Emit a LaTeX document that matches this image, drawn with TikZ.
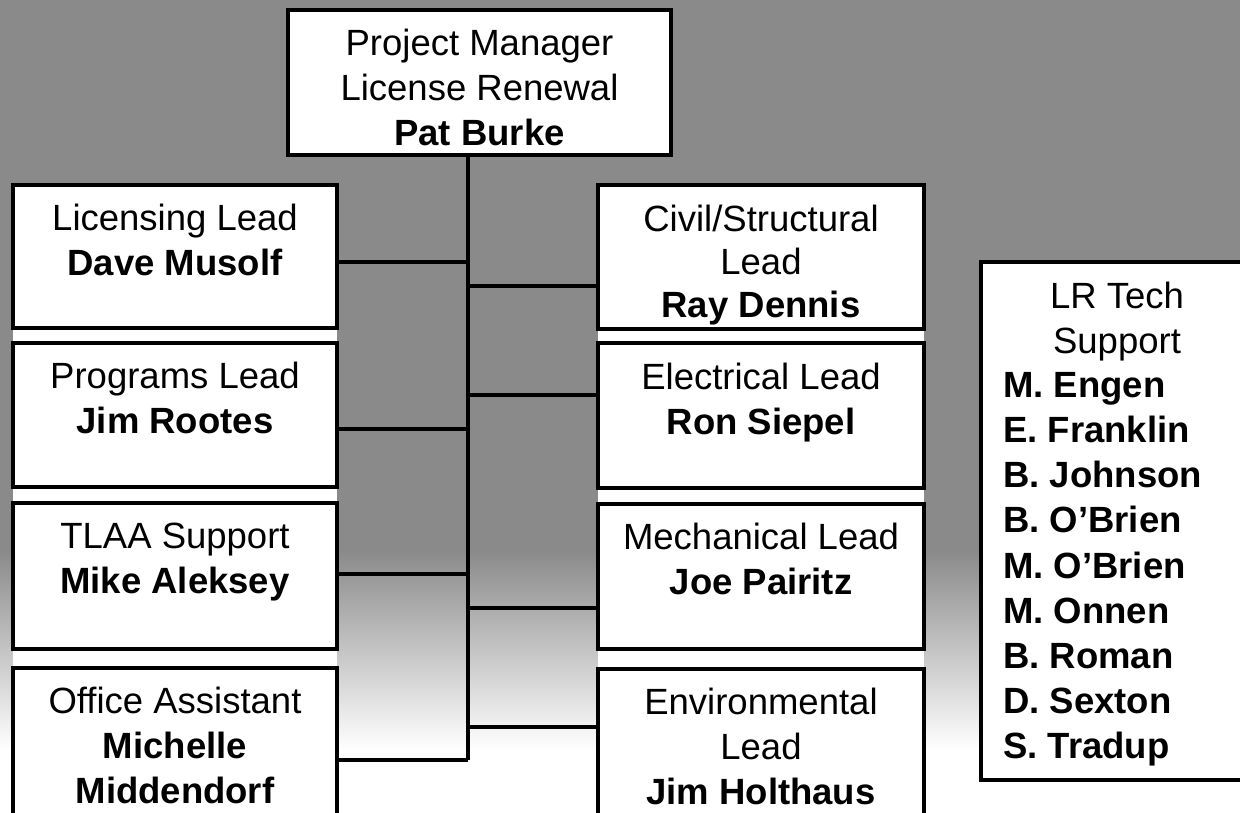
\documentclass[tikz,border=0pt]{standalone}
\usepackage{fontspec}
\setmainfont{Liberation Sans}
\begin{document}
\begin{tikzpicture}[x=1pt,y=-1pt,
  box/.style={draw=black, line width=3.2pt, fill=white, inner sep=0pt, outer sep=0pt, anchor=north west},
  txt/.style={anchor=north, align=center, inner sep=0pt, font=\fontsize{36.5}{45}\selectfont},
  lst/.style={anchor=north west, align=left, inner sep=0pt, font=\fontsize{36.5}{45.2}\selectfont\bfseries},
  link/.style={draw=black, line width=3.2pt}]
\useasboundingbox (0,0) rectangle (1240,813);
\clip (0,0) rectangle (1240,813);
% background texture (approximated as grey fading downwards)
\fill[black!46] (0,0) rectangle (1240,550);
\shade[top color=black!46, bottom color=white] (0,550) rectangle (1240,750);
\fill[white] (0,750) rectangle (1240,813);
% columns are lighter between their boxes
\fill[white] (13,185) rectangle (337,813);
\fill[white] (598,185) rectangle (924,813);

% boxes
\node[box, minimum width=383pt, minimum height=145pt] (top) at (288,10) {};
\node[box, minimum width=324pt, minimum height=143pt] (lic) at (13,185) {};
\node[box, minimum width=324pt, minimum height=144pt] (prog) at (13,343) {};
\node[box, minimum width=324pt, minimum height=146pt] (tlaa) at (13,503) {};
\node[box, minimum width=324pt, minimum height=170pt] (off) at (13,668) {};
\node[box, minimum width=326pt, minimum height=144pt] (civ) at (598,185) {};
\node[box, minimum width=326pt, minimum height=145pt] (ele) at (598,343) {};
\node[box, minimum width=326pt, minimum height=145pt] (mec) at (598,504) {};
\node[box, minimum width=326pt, minimum height=170pt] (env) at (598,669) {};
\node[box, minimum width=272pt, minimum height=518pt] (lr) at (981,262) {};

% connectors
\coordinate (tb) at (468,760);
\coordinate (jl1) at (468,262);
\coordinate (jl2) at (468,429);
\coordinate (jl3) at (468,574);
\coordinate (jr1) at (468,286);
\coordinate (jr2) at (468,395);
\coordinate (jr3) at (468,608);
\coordinate (jr4) at (468,727);
\draw[link] (top.south -| tb) -- (tb);
\draw[link] (jl1) -- (jl1 -| lic.east);
\draw[link] (jl2) -- (jl2 -| prog.east);
\draw[link] (jl3) -- (jl3 -| tlaa.east);
\draw[link] (tb) -- (tb -| off.east);
\draw[link] (jr1) -- (jr1 -| civ.west);
\draw[link] (jr2) -- (jr2 -| ele.west);
\draw[link] (jr3) -- (jr3 -| mec.west);
\draw[link] (jr4) -- (jr4 -| env.west);

% texts
\node[txt] (ttop) at ([yshift=-18.5pt]top.north) {Project Manager\\License Renewal\\\textbf{Pat Burke}};
\node[txt] (tlic) at ([yshift=-18.5pt]lic.north) {Licensing Lead\\\textbf{Dave Musolf}};
\node[txt] (tprog) at ([yshift=-18.5pt]prog.north) {Programs Lead\\\textbf{Jim Rootes}};
\node[txt] (ttlaa) at ([yshift=-20pt]tlaa.north) {TLAA Support\\\textbf{Mike Aleksey}};
\node[txt] (toff) at ([yshift=-18.5pt]off.north) {Office Assistant\\\textbf{Michelle}\\\textbf{Middendorf}};
\node[txt, font=\fontsize{36.5}{43}\selectfont] (tciv) at ([yshift=-20pt]civ.north) {Civil/Structural\\Lead\\\textbf{Ray Dennis}};
\node[txt] (tele) at ([yshift=-20pt]ele.north) {Electrical Lead\\\textbf{Ron Siepel}};
\node[txt] (tmec) at ([yshift=-18.5pt]mec.north) {Mechanical Lead\\\textbf{Joe Pairitz}};
\node[txt] (tenv) at ([yshift=-18.5pt]env.north) {Environmental\\Lead\\\textbf{Jim Holthaus}};
\node[txt, font=\fontsize{36.5}{45.2}\selectfont] (tlr) at ([yshift=-19.5pt]lr.north) {LR Tech\\Support};
\node[lst] (names) at (1003,372) {M. Engen\\E. Franklin\\B. Johnson\\B. O’Brien\\M. O’Brien\\M. Onnen\\B. Roman\\D. Sexton\\S. Tradup};
\end{tikzpicture}
\end{document}
